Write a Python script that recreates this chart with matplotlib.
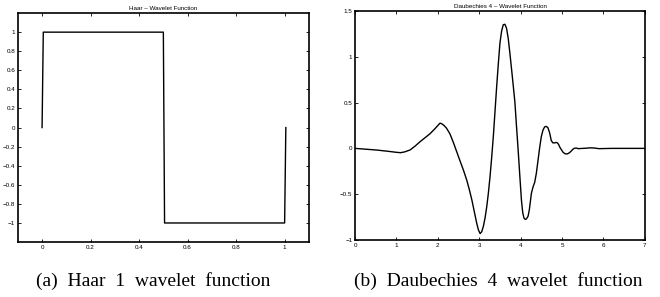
import numpy as np
import matplotlib
matplotlib.use("Agg")
import matplotlib.pyplot as plt

# Haar wavelet (step function)
haar_x = [0, 0.005, 0.5, 0.505, 1.0, 1.005]
haar_y = [0, 1, 1, -1, -1, 0]

# Daubechies 4 wavelet
db4_x = [0.0, 0.52, 0.8, 1.0, 1.1, 1.2, 1.33, 1.45, 1.57, 1.7, 1.81, 1.92, 2.01, 2.05,
         2.09, 2.15, 2.21, 2.29, 2.37, 2.45, 2.53, 2.62, 2.70, 2.76, 2.82, 2.88, 2.94,
         2.98, 3.02, 3.06, 3.10, 3.14, 3.18, 3.22, 3.26, 3.30, 3.34, 3.38, 3.42, 3.46,
         3.50, 3.54, 3.58, 3.62, 3.66, 3.70, 3.74, 3.80, 3.86, 3.90, 3.94, 3.98, 4.02,
         4.05, 4.08, 4.11, 4.14, 4.18, 4.21, 4.26, 4.30, 4.34, 4.38, 4.42, 4.46, 4.50,
         4.54, 4.58, 4.62, 4.66, 4.70, 4.74, 4.78, 4.82, 4.86, 4.89, 4.92, 4.95, 5.0,
         5.03, 5.08, 5.13, 5.17, 5.21, 5.25, 5.29, 5.34, 5.39, 5.5, 5.59, 5.67, 5.78,
         5.89, 6.2, 7.0]
db4_y = [0.0, -0.018, -0.032, -0.043, -0.047, -0.038, -0.017, 0.025, 0.073, 0.12, 0.16,
         0.21, 0.255, 0.275, 0.27, 0.25, 0.22, 0.16, 0.07, -0.03, -0.13, -0.24, -0.35,
         -0.45, -0.56, -0.69, -0.82, -0.89, -0.93, -0.91, -0.85, -0.76, -0.64, -0.49,
         -0.31, -0.10, 0.13, 0.40, 0.67, 0.92, 1.15, 1.28, 1.35, 1.355, 1.31, 1.20,
         1.04, 0.78, 0.51, 0.24, -0.02, -0.30, -0.57, -0.70, -0.76, -0.775, -0.77,
         -0.74, -0.67, -0.49, -0.42, -0.37, -0.27, -0.13, 0.01, 0.13, 0.20, 0.235,
         0.24, 0.225, 0.17, 0.085, 0.06, 0.06, 0.065, 0.06, 0.04, 0.01, -0.025, -0.045,
         -0.06, -0.06, -0.05, -0.035, -0.015, 0.0, 0.004, -0.003, 0.0, 0.002, 0.006,
         0.004, -0.003, 0.0, 0.0]

haar_xticks = [0, 0.2, 0.4, 0.6, 0.8, 1]
haar_yticks = [-1, -0.8, -0.6, -0.4, -0.2, 0, 0.2, 0.4, 0.6, 0.8, 1]
db4_xticks = [0, 1, 2, 3, 4, 5, 6, 7]
db4_yticks = [-1, -0.5, 0, 0.5, 1, 1.5]

plt.rcParams['font.family'] = ['Liberation Sans', 'DejaVu Sans']

fig = plt.figure(figsize=(6.6, 2.97), dpi=100)
ax1 = fig.add_axes([0.027, 0.185, 0.441, 0.771])
ax2 = fig.add_axes([0.538, 0.192, 0.439, 0.771])

ax1.plot(haar_x, haar_y, color='black', lw=1.0)
ax1.set_xlim(-0.1, 1.1)
ax1.set_ylim(-1.2, 1.2)
ax1.set_xticks(haar_xticks)
ax1.set_xticklabels([f"{v:g}" for v in haar_xticks])
ax1.set_yticks(haar_yticks)
ax1.set_yticklabels([f"{v:g}".replace('-', '\u2212') for v in haar_yticks])
ax1.set_title("Haar \u2013 Wavelet Function", fontsize=4.5, pad=2)

ax2.plot(db4_x, db4_y, color='black', lw=1.0)
ax2.set_xlim(0, 7)
ax2.set_ylim(-1, 1.5)
ax2.set_xticks(db4_xticks)
ax2.set_yticks(db4_yticks)
ax2.set_yticklabels([f"{v:g}".replace('-', '\u2212') for v in db4_yticks])
ax2.set_title("Daubechies 4 \u2013 Wavelet Function", fontsize=4.5, pad=2)

for ax in (ax1, ax2):
    ax.tick_params(direction='in', length=2, width=0.6, labelsize=4.5, pad=2,
                   top=True, right=True)
    for s in ax.spines.values():
        s.set_linewidth(1.2)

fig.text(0.232, 0.055, "(a)  Haar  1  wavelet  function", ha='center', va='center',
         fontsize=14, family='Liberation Serif')
fig.text(0.755, 0.055, "(b)  Daubechies  4  wavelet  function", ha='center', va='center',
         fontsize=14, family='Liberation Serif')

fig.savefig("out.png", dpi=100)
